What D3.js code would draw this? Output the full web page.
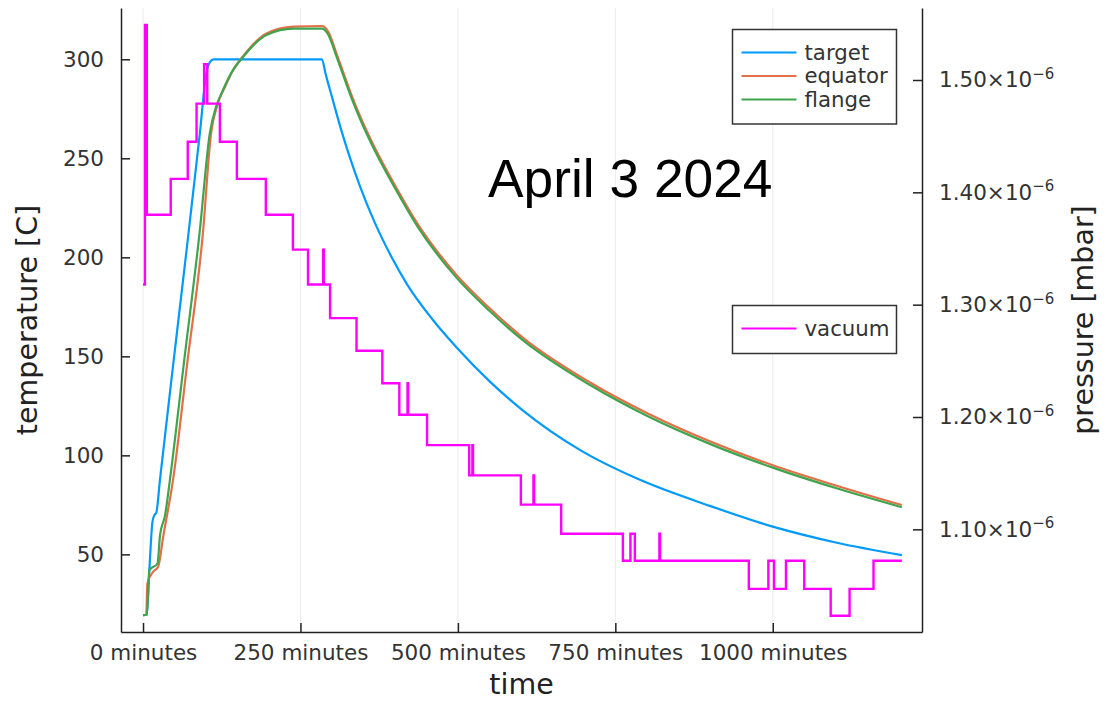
<!DOCTYPE html>
<html lang="en">
<head>
<meta charset="UTF-8">
<title>April 3 2024</title>
<script src="https://d3js.org/d3.v7.min.js"></script>
<style>
    body{ margin:0; background:#fff; }
    text{ font-family:"DejaVu Sans", sans-serif; }
    .tick text{ font-size:21.5px; fill:#333; }
    .guide{ font-size:28.5px; fill:#222; }
    .legend text{ font-size:21.3px; fill:#333; }
</style>
</head>
<body>
<svg width="1108" height="701"></svg>
<script>
    // ticks
    const xTicks = [0, 250, 500, 750, 1000];
    const tempTicks = [50, 100, 150, 200, 250, 300];
    const pressTicks = [1.10, 1.20, 1.30, 1.40, 1.50];   // x 1e-6 mbar

    // temperature series [C], time in minutes
    const targetTime = [0, 6, 10, 15, 18, 21, 27, 45, 70, 90, 101, 106, 112, 200, 284, 290, 300, 315, 330, 345, 368, 394, 419, 460, 498, 550, 602, 695, 790, 900, 1000, 1100, 1205];
    const targetTemp = [19.3, 19.5, 42, 66.5, 69.8, 71, 88, 138, 206, 262, 294, 298.5, 300, 300, 300, 292.5, 281, 264, 249, 235.5, 217.5, 200.5, 186.5, 168.5, 154.5, 137.5, 123, 102.5, 87.5, 74.5, 64, 56, 49.6];

    const equatorTime = [0, 5, 7, 16, 24, 32, 48, 70, 95, 108, 118, 130, 142, 160, 196, 239, 284, 288, 294, 300, 306, 313, 330, 345, 366, 400, 436, 497, 550, 603, 710, 800, 900, 1000, 1100, 1205];
    const equatorTemp = [19.3, 19.5, 35.5, 41.2, 43.7, 58.9, 88.4, 146, 212, 262.6, 277, 286, 294, 302, 313, 316.5, 316.8, 316.4, 314, 309.5, 304, 297.8, 282.8, 271, 256.6, 236.4, 216.9, 191.4, 174.4, 159.5, 136.8, 121.4, 107.1, 95, 84.8, 74.9];

    const flangeTime = [0, 6, 10, 23, 27, 35, 43, 65, 90, 106, 116, 127, 140, 159, 196, 239, 284, 288, 294, 300, 306, 313, 330, 345, 366, 400, 436, 497, 550, 603, 710, 800, 900, 1000, 1100, 1205];
    const flangeTemp = [19.3, 19.5, 42, 45.4, 59.7, 69.8, 88.4, 147, 213, 262.6, 276, 284.5, 293, 301.3, 312.3, 315.5, 315.5, 315, 312.5, 308, 302.5, 296.3, 281.3, 269.6, 255.2, 235, 215.5, 190, 173, 158.2, 135.5, 120, 105.8, 93.8, 83.5, 73.8];

    // vacuum, step values x 1e-6 mbar, each holds from its time to the next
    const vacuumTime = [0, 3, 6, 44, 71, 85, 97, 102, 122, 149, 195, 238, 262, 286, 287, 297, 339, 380, 407, 420, 421, 451, 518, 523, 524, 600, 620, 621, 664, 762, 774, 781, 820, 821, 962, 993, 1002, 1021, 1050, 1092, 1122, 1160, 1205];
    const vacuumPressure = [1.318, 1.549, 1.380, 1.412, 1.445, 1.479, 1.514, 1.479, 1.445, 1.412, 1.380, 1.349, 1.318, 1.349, 1.318, 1.288, 1.259, 1.230, 1.202, 1.230, 1.202, 1.175, 1.148, 1.175, 1.148, 1.122, 1.148, 1.122, 1.096, 1.072, 1.096, 1.072, 1.096, 1.072, 1.047, 1.072, 1.047, 1.072, 1.047, 1.023, 1.047, 1.072, 1.072];

    const colors = {target:"#009AFA", equator:"#E36F47", flange:"#3EA44E", vacuum:"#FF00FF"};

    const plotLeft = 121, plotRight = 922, plotTop = 8, plotBottom = 632;

    let svg = d3.select("svg");

    let x = d3.scaleLinear().domain([-35, 1237]).range([plotLeft, plotRight]);
    let yTemp = d3.scaleLinear().domain([10.8, 325.9]).range([plotBottom, plotTop]);
    let yPress = d3.scaleLinear().domain([1.0086, 1.5641]).range([plotBottom, plotTop]);

    // vertical grid
    svg.append("g").selectAll("line")
        .data(xTicks)
        .join("line")
        .attr("x1", d => x(d)).attr("x2", d => x(d))
        .attr("y1", plotTop).attr("y2", plotBottom)
        .attr("stroke", "#000").attr("stroke-opacity", 0.08).attr("stroke-width", 1);

    let tempLine = d3.line()
        .x(d => x(d[0]))
        .y(d => yTemp(d[1]))
        .curve(d3.curveMonotoneX);

    let series = [
        {name:"target", t:targetTime, v:targetTemp},
        {name:"equator", t:equatorTime, v:equatorTemp},
        {name:"flange", t:flangeTime, v:flangeTemp}
    ];

    svg.append("g").selectAll("path")
        .data(series)
        .join("path")
        .attr("d", s => tempLine(s.t.map((t, i) => [t, s.v[i]])))
        .attr("fill", "none")
        .attr("stroke", s => colors[s.name])
        .attr("stroke-width", 2.2)
        .attr("stroke-linejoin", "round");

    let vacLine = d3.line()
        .x(d => x(d[0]))
        .y(d => yPress(d[1]))
        .curve(d3.curveStepAfter);

    svg.append("path")
        .attr("d", vacLine(vacuumTime.map((t, i) => [t, vacuumPressure[i]])))
        .attr("fill", "none")
        .attr("stroke", colors.vacuum)
        .attr("stroke-width", 2.4);

    // axes
    svg.append("g")
        .attr("transform", `translate(${plotLeft},0)`)
        .call(d3.axisLeft(yTemp).tickValues(tempTicks).tickSizeInner(-9).tickSizeOuter(0).tickPadding(17))
        .call(g => g.selectAll("path, line").attr("stroke", "#222").attr("stroke-width", 1.5));

    svg.append("g")
        .attr("transform", `translate(0,${plotBottom})`)
        .call(d3.axisBottom(x).tickValues(xTicks).tickFormat(d => d + " minutes").tickSizeInner(-9).tickSizeOuter(0).tickPadding(13))
        .call(g => g.selectAll("path, line").attr("stroke", "#222").attr("stroke-width", 1.5));

    let rightAxis = svg.append("g")
        .attr("transform", `translate(${plotRight},0)`)
        .call(d3.axisRight(yPress).tickValues(pressTicks).tickFormat(() => "").tickSizeInner(-9).tickSizeOuter(0).tickPadding(17))
        .call(g => g.selectAll("path, line").attr("stroke", "#222").attr("stroke-width", 1.5));

    rightAxis.selectAll(".tick text").each(function(d){
        let t = d3.select(this);
        t.append("tspan").text(d3.format(".2f")(d) + "×10");
        t.append("tspan").attr("dy", "-0.55em").style("font-size", "15px").text("−6");
    });

    // axis titles
    svg.append("text").attr("class", "guide")
        .attr("x", (plotLeft + plotRight) / 2).attr("y", 694)
        .attr("text-anchor", "middle").text("time");
    svg.append("text").attr("class", "guide")
        .attr("transform", `translate(37,${(plotTop + plotBottom) / 2}) rotate(-90)`)
        .attr("text-anchor", "middle").text("temperature [C]");
    svg.append("text").attr("class", "guide")
        .attr("transform", `translate(1093,${(plotTop + plotBottom) / 2}) rotate(-90)`)
        .attr("text-anchor", "middle").text("pressure [mbar]");

    // legends
    function legend(names, bx, by, h){
        let g = svg.append("g").attr("class", "legend");
        g.append("rect")
            .attr("x", bx).attr("y", by).attr("width", 164).attr("height", h)
            .attr("fill", "#fff").attr("stroke", "#333").attr("stroke-width", 1.5);
        names.forEach((n, i) => {
            let ly = by + 23 + i * 23.5;
            g.append("line")
                .attr("x1", bx + 9).attr("x2", bx + 64)
                .attr("y1", ly).attr("y2", ly)
                .attr("stroke", colors[n]).attr("stroke-width", 2.2);
            g.append("text")
                .attr("x", bx + 72).attr("y", ly).attr("dy", "0.35em")
                .text(n);
        });
    }
    legend(["target", "equator", "flange"], 732.5, 29.5, 94.5);
    legend(["vacuum"], 732.5, 305.5, 48);

    svg.append("text")
        .attr("x", 488).attr("y", 197)
        .style("font-family", "'Liberation Sans', Arial, sans-serif")
        .attr("font-size", 53.3).attr("fill", "#000")
        .text("April 3 2024");
</script>
</body>
</html>
